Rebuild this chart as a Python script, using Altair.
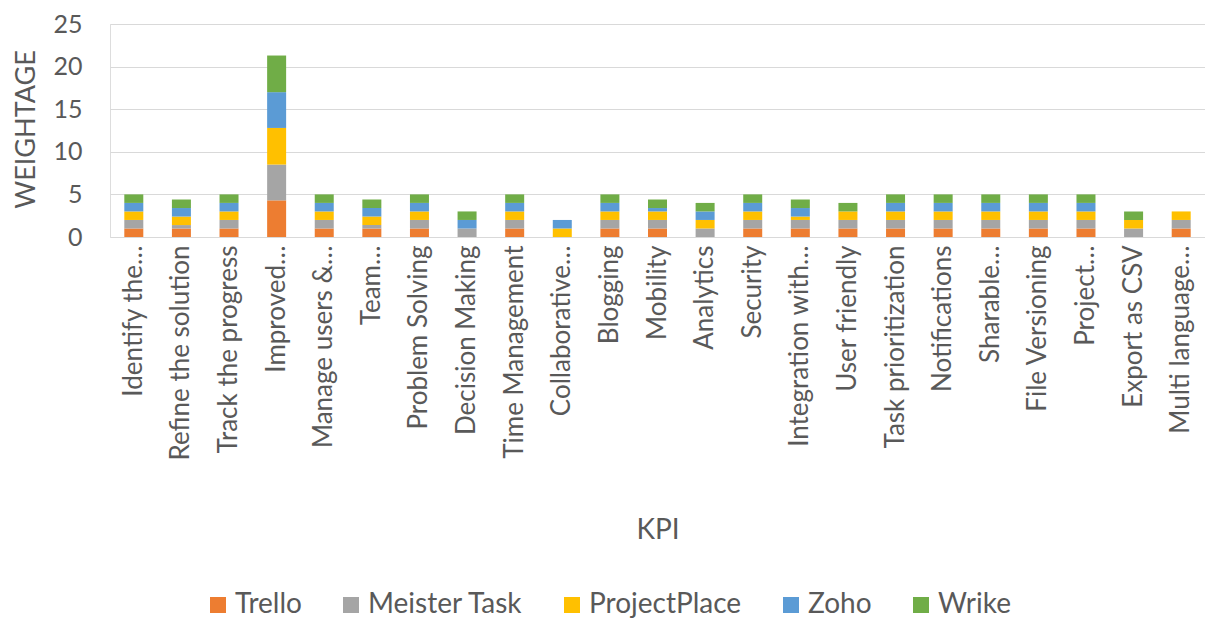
import altair as alt
import pandas as pd

kpis = [
    "Identify the…", "Refine the solution", "Track the progress", "Improved…",
    "Manage users &…", "Team…", "Problem Solving", "Decision Making",
    "Time Management", "Collaborative…", "Blogging", "Mobility", "Analytics",
    "Security", "Integration with…", "User friendly", "Task prioritization",
    "Notifications", "Sharable…", "File Versioning", "Project…",
    "Export as CSV", "Multi language…",
]
tools = ["Trello", "Meister Task", "ProjectPlace", "Zoho", "Wrike"]
colors = ["#ED7D31", "#A5A5A5", "#FFC000", "#5B9BD5", "#70AD47"]

trello = [1, 1, 1, 4.3, 1, 1, 1, 0, 1, 0, 1, 1, 0, 1, 1, 1, 1, 1, 1, 1, 1, 0, 1]
meister = [1, 0.4, 1, 4.2, 1, 0.4, 1, 1, 1, 0, 1, 1, 1, 1, 1, 1, 1, 1, 1, 1, 1, 1, 1]
projectplace = [1, 1, 1, 4.3, 1, 1, 1, 0, 1, 1, 1, 1, 1, 1, 0.4, 1, 1, 1, 1, 1, 1, 1, 1]
zoho = [1, 1, 1, 4.2, 1, 1, 1, 1, 1, 1, 1, 0.4, 1, 1, 1, 0, 1, 1, 1, 1, 1, 0, 0]
wrike = [1, 1, 1, 4.3, 1, 1, 1, 1, 1, 0, 1, 1, 1, 1, 1, 1, 1, 1, 1, 1, 1, 1, 0]

series = [trello, meister, projectplace, zoho, wrike]
rows = []
for ti, (tool, vals) in enumerate(zip(tools, series)):
    for k, v in zip(kpis, vals):
        if v > 0:
            rows.append({"KPI": k, "Tool": tool, "idx": ti, "value": v})
df = pd.DataFrame(rows)

FONT = "Lato"
TXT = "#595959"

chart = (
    alt.Chart(df)
    .mark_bar(size=19)
    .encode(
        x=alt.X(
            "KPI:N",
            sort=kpis,
            scale=alt.Scale(domain=kpis),
            axis=alt.Axis(
                title="KPI",
                labelAngle=270,
                labelAlign="right",
                labelBaseline="middle",
                labelPadding=8,
                labelLimit=400,
                labelFontSize=26,
                labelColor=TXT,
                labelFont=FONT,
                ticks=False,
                domain=False,
                titleFontSize=28,
                titleFontWeight="normal",
                titleColor=TXT,
                titleFont=FONT,
                titleY=293,
                titleBaseline="middle",
            ),
        ),
        y=alt.Y(
            "value:Q",
            stack="zero",
            scale=alt.Scale(domain=[0, 25], nice=False),
            axis=alt.Axis(
                title="WEIGHTAGE",
                values=[0, 5, 10, 15, 20, 25],
                labelFontSize=25,
                labelColor=TXT,
                labelFont=FONT,
                labelPadding=28,
                ticks=False,
                domain=False,
                gridColor="#D9D9D9",
                gridWidth=1,
                titleFontSize=27,
                titleFontWeight="normal",
                titleColor=TXT,
                titleFont=FONT,
                titleAngle=270,
                titleX=-84,
                titleY=105,
                titleAlign="center",
                titleBaseline="middle",
            ),
        ),
        color=alt.Color(
            "Tool:N",
            scale=alt.Scale(domain=tools, range=colors),
            legend=alt.Legend(
                title=None,
                orient="none",
                legendX=94,
                legendY=567,
                direction="horizontal",
                symbolType="square",
                symbolSize=256,
                symbolStrokeWidth=0,
                labelFontSize=28,
                labelLimit=400,
                labelColor=TXT,
                labelFont=FONT,
                labelOffset=3,
                columnPadding=35,
            ),
        ),
        order=alt.Order("idx:Q", sort="ascending"),
    )
    .properties(
        width=1095,
        height=213,
        autosize=alt.AutoSizeParams(type="none"),
        padding={"left": 102, "top": 16, "right": 0, "bottom": 390},
    )
    .configure_view(stroke=None)
    .configure(background="white")
)

chart.save("out.html", embed_options={"renderer": "svg", "actions": False})
